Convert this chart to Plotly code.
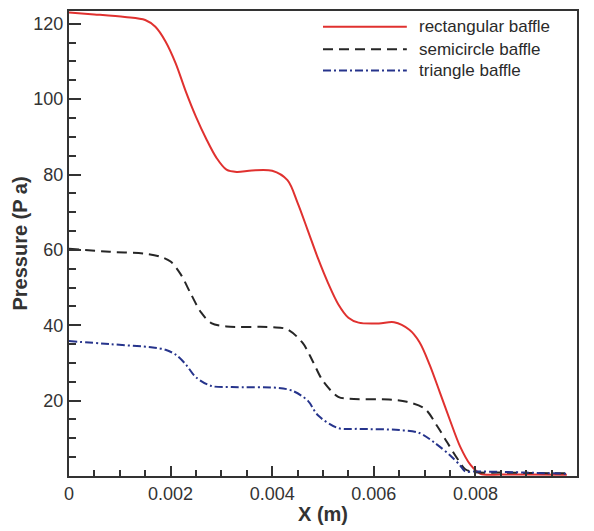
import plotly.graph_objects as go

# Pressure along the channel for three baffle shapes
series_names = ["rectangular baffle", "semicircle baffle", "triangle baffle"]

x_rect = [0, 0.0005, 0.0011, 0.0015, 0.0017, 0.0019, 0.0021, 0.0023, 0.0025,
          0.0027, 0.0029, 0.0031, 0.0033, 0.0036, 0.0040, 0.0043, 0.0045,
          0.0047, 0.0049, 0.0051, 0.0053, 0.0055, 0.0057, 0.0061, 0.0064,
          0.0067, 0.0069, 0.0071, 0.0073, 0.0075, 0.0077, 0.0079, 0.0081,
          0.0085, 0.009, 0.0098]
p_rect = [123.0, 122.5, 121.8, 121.0, 119.2, 115.3, 109.5, 102.0, 95.3,
          89.5, 84.5, 81.3, 80.7, 81.1, 81.0, 78.5, 72.5,
          65.2, 57.8, 51.2, 45.6, 42.0, 40.7, 40.5, 40.8,
          38.8, 35.5, 29.5, 22.2, 14.8, 7.8, 3.0, 0.6,
          0.4, 0.4, 0.3]

x_semi = [0, 0.0008, 0.0015, 0.0018, 0.0020, 0.0022, 0.0024, 0.0026, 0.0028,
          0.0031, 0.0040, 0.0043, 0.0046, 0.0048, 0.0050, 0.0053, 0.0055,
          0.0063, 0.00665, 0.0070, 0.00725, 0.00745, 0.00765, 0.0078, 0.0080,
          0.0085, 0.0090, 0.0098]
p_semi = [60.3, 59.5, 59.0, 58.2, 56.9, 53.5, 48.3, 43.4, 40.6,
          39.7, 39.5, 38.9, 35.3, 30.4, 25.2, 21.0, 20.5,
          20.3, 19.7, 17.9, 13.2, 8.8, 4.5, 1.8, 1.0,
          0.9, 0.8, 0.7]

x_tri = [0, 0.0008, 0.00165, 0.0019, 0.0021, 0.0023, 0.0025, 0.0028, 0.0032,
         0.0041, 0.0044, 0.0047, 0.0049, 0.0053, 0.0057, 0.0065, 0.0069,
         0.0072, 0.0075, 0.0077, 0.0078, 0.0080, 0.0085, 0.0090, 0.0098]
p_tri = [35.8, 35.0, 34.1, 33.5, 32.2, 29.6, 26.2, 23.9, 23.6,
         23.4, 22.6, 20.0, 16.1, 12.7, 12.5, 12.2, 11.4,
         8.8, 5.5, 2.8, 1.2, 1.2, 1.1, 0.9, 0.6]

x_ticks = [0, 0.002, 0.004, 0.006, 0.008, 0.01]
x_tick_text = ["0", "0.002", "0.004", "0.006", "0.008", "0.01"]
y_ticks = [20, 40, 60, 80, 100, 120]

colors = ["#e0312f", "#262626", "#26348c"]
dashes = ["solid", "10px,6px", "8px,3px,2px,3px"]

FONT = "Liberation Sans, Arial, sans-serif"
INK = "#333333"

fig = go.Figure()
for name, xs, ys, c, d in zip(series_names, [x_rect, x_semi, x_tri],
                              [p_rect, p_semi, p_tri], colors, dashes):
    fig.add_trace(go.Scatter(
        x=xs, y=ys, mode="lines", name=name, showlegend=False,
        line=dict(color=c, width=2, dash=d, shape="spline", smoothing=0.9),
    ))

# Legend drawn in paper coordinates: long line samples with labels
legend_rows_y = [0.966, 0.918, 0.872]
for name, c, d, yy in zip(series_names, colors, dashes, legend_rows_y):
    fig.add_shape(type="line", xref="paper", yref="paper",
                  x0=0.50, x1=0.665, y0=yy, y1=yy,
                  line=dict(color=c, width=2, dash=d))
    fig.add_annotation(xref="paper", yref="paper", x=0.686, y=yy,
                       text=name, showarrow=False, xanchor="left",
                       yanchor="middle",
                       font=dict(family=FONT, size=17, color="#2a2a2a"))

axis_common = dict(
    showline=True, linecolor=INK, linewidth=2, mirror=True,
    ticks="inside", tickcolor=INK, tickwidth=2,
    showgrid=False, zeroline=False,
    tickfont=dict(family=FONT, size=18, color=INK),
)

fig.update_xaxes(
    range=[0, 0.01], tickvals=x_ticks, ticktext=x_tick_text, ticklen=10,
    minor=dict(dtick=0.0005, ticks="inside", ticklen=6, tickcolor=INK,
               tickwidth=1.5, showgrid=False),
    title=dict(text="<b>X (m)</b>", standoff=4,
               font=dict(family=FONT, size=20, color=INK)),
    **axis_common,
)
fig.update_yaxes(
    range=[0, 123.4], tickvals=y_ticks, ticklen=12,
    minor=dict(dtick=5, ticks="inside", ticklen=7, tickcolor=INK,
               tickwidth=1.5, showgrid=False),
    title=dict(text="<b>Pressure (P a)</b>", standoff=0,
               font=dict(family=FONT, size=20, color=INK)),
    **axis_common,
)

fig.update_layout(
    width=594, height=531,
    margin=dict(l=69, r=17, t=9, b=47),
    paper_bgcolor="white", plot_bgcolor="white",
)

fig.write_html("out.html")
